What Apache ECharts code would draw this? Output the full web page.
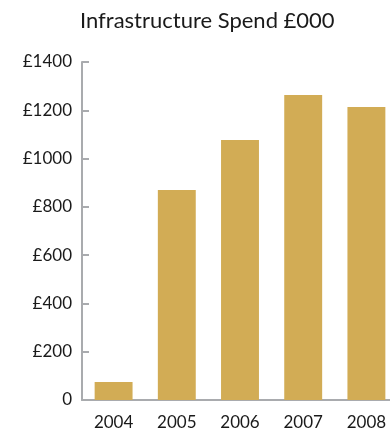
<!DOCTYPE html>
<html>
<head>
<meta charset="utf-8">
<script src="https://cdn.jsdelivr.net/npm/echarts@6/dist/echarts.min.js"></script>
<style>
  html, body { margin: 0; padding: 0; background: #fff; }
  #chart { width: 390px; height: 434px; }
</style>
</head>
<body>
<div id="chart"></div>
<script>
// Annual infrastructure spend, in thousands of pounds
const years = ['2004', '2005', '2006', '2007', '2008'];
const spend = [75, 870, 1077, 1263, 1214];
const yTicks = [0, 200, 400, 600, 800, 1000, 1200, 1400];

const chart = echarts.init(document.getElementById('chart'));
const font = 'Lato, "Open Sans", sans-serif';
const axisGrey = '#a9abae';

chart.setOption({
  animation: false,
  title: {
    text: 'Infrastructure Spend £000',
    left: 75,
    top: 5,
    textStyle: { fontFamily: font, fontSize: 22, fontWeight: 'normal', color: '#1a1a1a' }
  },
  // plot area runs slightly past the right edge of the canvas
  grid: { left: 82, top: 62, width: 316, height: 338, outerBoundsMode: 'none', containLabel: false },
  xAxis: {
    type: 'category',
    data: years,
    axisLine: { lineStyle: { color: axisGrey, width: 2 } },
    axisTick: { inside: true, length: 8, lineStyle: { color: axisGrey, width: 2 } },
    axisLabel: { fontFamily: font, fontSize: 17, color: '#1a1a1a', margin: 14 }
  },
  yAxis: {
    type: 'value',
    min: yTicks[0],
    max: yTicks[yTicks.length - 1],
    interval: yTicks[1] - yTicks[0],
    splitLine: { show: false },
    axisLine: { show: true, lineStyle: { color: axisGrey, width: 2 } },
    axisTick: { show: true, inside: true, length: 7, lineStyle: { color: axisGrey, width: 2 } },
    axisLabel: {
      fontFamily: font, fontSize: 17, color: '#1a1a1a', margin: 10,
      formatter: v => (v === 0 ? '0' : '£' + v)
    }
  },
  series: [{
    type: 'bar',
    data: spend,
    barCategoryGap: '40%',
    itemStyle: { color: '#d2ac55' }
  }]
});
</script>
</body>
</html>
